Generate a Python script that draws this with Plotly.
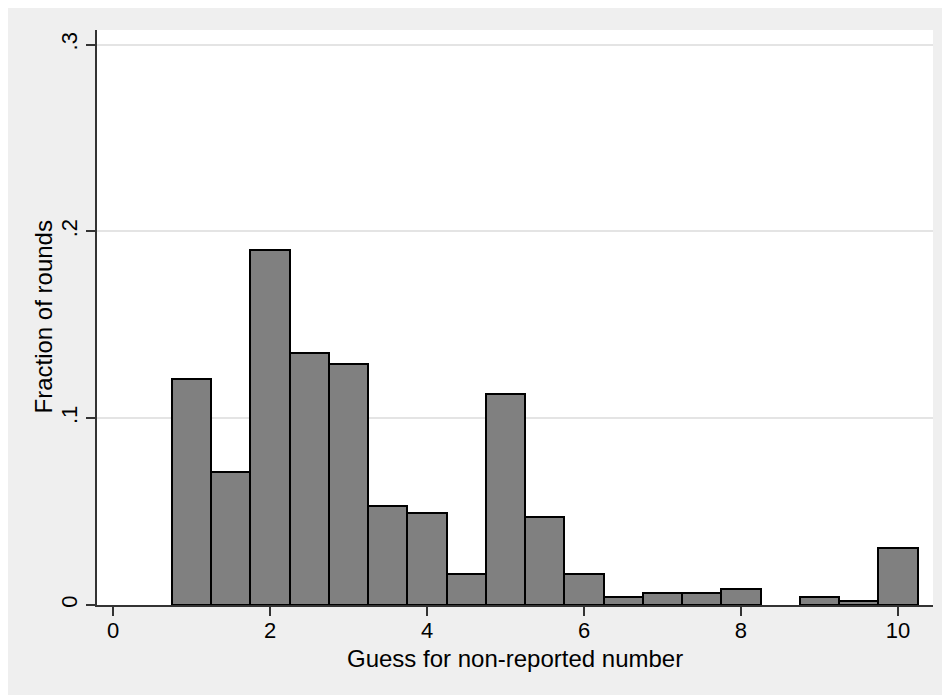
import plotly.graph_objects as go

# Data (bin centers and fractions)
guess_bins = [1.0, 1.5, 2.0, 2.5, 3.0, 3.5, 4.0, 4.5, 5.0, 5.5, 6.0, 6.5, 7.0, 7.5, 8.0, 9.0, 9.5, 10.0]
fractions = [0.121, 0.071, 0.190, 0.135, 0.129, 0.053, 0.049, 0.0166, 0.113, 0.047, 0.0166,
             0.0042, 0.0064, 0.0064, 0.0083, 0.0042, 0.0021, 0.0305]
bin_width = 0.5
x_tick_vals = [0, 2, 4, 6, 8, 10]
x_tick_text = ["0", "2", "4", "6", "8", "10"]
y_tick_vals = [0, 0.1, 0.2, 0.3]
y_tick_text = ["0", ".1", ".2", ".3"]
x_title = "Guess for non-reported number"
y_title = "Fraction of rounds"

FONT = "Liberation Sans, Arial, Helvetica, sans-serif"
BG = "#EFEFEF"

fig = go.Figure()
fig.add_trace(go.Bar(
    x=guess_bins, y=fractions, width=bin_width,
    marker=dict(color="#808080", line=dict(color="#000000", width=2)),
    showlegend=False,
))

# page is offset by the default 8px body margin
W, H = 942, 687
L, R, T, B = 89, 17, 22, 90
ph = H - T - B
pw = W - L - R

fig.update_layout(
    width=W, height=H,
    margin=dict(l=L, r=R, t=T, b=B, pad=0),
    paper_bgcolor=BG, plot_bgcolor="white",
    font=dict(family=FONT, color="#000000", size=22),
    bargap=0,
    xaxis=dict(
        range=[-0.204, 10.446], tickvals=x_tick_vals, ticktext=x_tick_text,
        showgrid=False, zeroline=False,
        showline=True, linecolor="#333333", linewidth=1.5,
        ticks="outside", ticklen=9, tickwidth=1.5, tickcolor="#333333",
        ticklabelstandoff=-4,
        tickfont=dict(size=22, family=FONT),
    ),
    yaxis=dict(
        range=[0, 0.3078], tickvals=y_tick_vals, ticktext=y_tick_text,
        showgrid=True, gridcolor="#E4E4E4", gridwidth=1.6, zeroline=False,
        showline=True, linecolor="#333333", linewidth=1.5,
        ticks="outside", ticklen=9, tickwidth=1.5, tickcolor="#333333",
        tickangle=-90,
        tickfont=dict(size=22, family=FONT),
    ),
    annotations=[
        dict(text=x_title, xref="paper", yref="paper", x=0.5, y=-53 / ph,
             xanchor="center", yanchor="middle", showarrow=False,
             font=dict(size=24, family=FONT, color="#000000")),
        dict(text=y_title, xref="paper", yref="paper", x=-54 / pw, y=0.5,
             xanchor="center", yanchor="middle", showarrow=False, textangle=-90,
             font=dict(size=24, family=FONT, color="#000000")),
    ],
)

fig.write_html("out.html")
